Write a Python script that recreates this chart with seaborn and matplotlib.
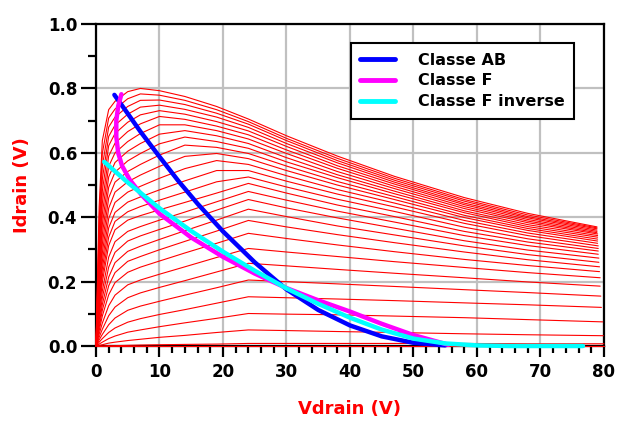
import pandas as pd
import numpy as np

import matplotlib
matplotlib.use("Agg")
import matplotlib.pyplot as plt
from matplotlib.ticker import MultipleLocator
import seaborn as sns

# drain voltage columns shared by all I-V curves, last point is per curve
vdrain_grid = [0, 0.5, 1, 2, 3, 5, 7, 10, 14, 19, 24, 30, 38, 47, 58, 68]
vdrain_last = [80.0, 80.0, 79.9, 79.8, 79.6, 79.5, 79.4, 79.4, 79.3, 79.3,
               79.2, 79.2, 79.1, 79.1, 79.1, 79.1, 79.0, 79.0, 79.0, 79.0,
               79.0, 79.0, 78.9, 78.9, 78.9, 78.9, 78.9, 78.9]

# one row per gate step (bottom to top)
idrain_curves = [
    [0, 0, 0, 0, 0, 0, 0, 0, 0, 0, 0, 0, 0, 0, 0, 0, 0],
    [0, 0.000, 0.000, 0.001, 0.001, 0.002, 0.003, 0.004, 0.005, 0.006, 0.008, 0.008, 0.008, 0.008, 0.008, 0.007, 0.007],
    [0, 0.002, 0.004, 0.009, 0.012, 0.017, 0.021, 0.027, 0.033, 0.042, 0.050, 0.048, 0.045, 0.042, 0.038, 0.035, 0.032],
    [0, 0.006, 0.012, 0.023, 0.031, 0.043, 0.050, 0.060, 0.072, 0.086, 0.101, 0.099, 0.097, 0.093, 0.088, 0.082, 0.075],
    [0, 0.012, 0.023, 0.042, 0.056, 0.074, 0.085, 0.098, 0.113, 0.133, 0.153, 0.150, 0.146, 0.141, 0.134, 0.128, 0.120],
    [0, 0.019, 0.036, 0.066, 0.087, 0.111, 0.124, 0.139, 0.158, 0.181, 0.205, 0.200, 0.193, 0.185, 0.175, 0.166, 0.155],
    [0, 0.027, 0.052, 0.094, 0.121, 0.150, 0.165, 0.182, 0.203, 0.230, 0.257, 0.249, 0.238, 0.226, 0.212, 0.199, 0.186],
    [0, 0.037, 0.071, 0.125, 0.158, 0.190, 0.205, 0.223, 0.246, 0.275, 0.303, 0.292, 0.278, 0.262, 0.244, 0.228, 0.212],
    [0, 0.048, 0.093, 0.159, 0.197, 0.229, 0.245, 0.264, 0.289, 0.319, 0.350, 0.334, 0.314, 0.293, 0.269, 0.250, 0.231],
    [0, 0.058, 0.111, 0.187, 0.228, 0.263, 0.278, 0.299, 0.325, 0.357, 0.390, 0.370, 0.346, 0.321, 0.292, 0.268, 0.246],
    [0, 0.067, 0.129, 0.214, 0.259, 0.294, 0.310, 0.331, 0.358, 0.391, 0.425, 0.402, 0.373, 0.345, 0.311, 0.284, 0.260],
    [0, 0.079, 0.149, 0.245, 0.291, 0.326, 0.342, 0.362, 0.388, 0.422, 0.455, 0.429, 0.398, 0.366, 0.327, 0.298, 0.273],
    [0, 0.092, 0.171, 0.276, 0.324, 0.356, 0.371, 0.391, 0.416, 0.448, 0.480, 0.453, 0.419, 0.385, 0.343, 0.312, 0.285],
    [0, 0.107, 0.198, 0.312, 0.361, 0.391, 0.405, 0.423, 0.446, 0.475, 0.505, 0.475, 0.438, 0.402, 0.356, 0.323, 0.295],
    [0, 0.118, 0.218, 0.338, 0.387, 0.417, 0.433, 0.453, 0.478, 0.510, 0.525, 0.494, 0.456, 0.418, 0.369, 0.333, 0.303],
    [0, 0.131, 0.240, 0.367, 0.415, 0.447, 0.463, 0.485, 0.513, 0.545, 0.545, 0.512, 0.472, 0.432, 0.381, 0.343, 0.311],
    [0, 0.145, 0.263, 0.396, 0.446, 0.478, 0.496, 0.521, 0.551, 0.576, 0.564, 0.529, 0.486, 0.444, 0.390, 0.351, 0.319],
    [0, 0.161, 0.289, 0.428, 0.478, 0.510, 0.531, 0.558, 0.589, 0.598, 0.582, 0.545, 0.500, 0.455, 0.399, 0.359, 0.326],
    [0, 0.177, 0.317, 0.460, 0.509, 0.542, 0.564, 0.593, 0.624, 0.617, 0.598, 0.559, 0.511, 0.464, 0.406, 0.365, 0.332],
    [0, 0.197, 0.346, 0.493, 0.540, 0.575, 0.598, 0.628, 0.649, 0.635, 0.614, 0.572, 0.523, 0.473, 0.414, 0.371, 0.338],
    [0, 0.217, 0.377, 0.525, 0.570, 0.605, 0.629, 0.658, 0.669, 0.653, 0.629, 0.585, 0.532, 0.481, 0.420, 0.377, 0.343],
    [0, 0.239, 0.410, 0.558, 0.600, 0.635, 0.660, 0.687, 0.687, 0.669, 0.643, 0.598, 0.542, 0.489, 0.427, 0.383, 0.348],
    [0, 0.264, 0.444, 0.590, 0.630, 0.666, 0.690, 0.713, 0.704, 0.683, 0.656, 0.609, 0.552, 0.496, 0.433, 0.388, 0.352],
    [0, 0.291, 0.481, 0.622, 0.660, 0.695, 0.718, 0.731, 0.720, 0.697, 0.668, 0.620, 0.560, 0.503, 0.439, 0.393, 0.356],
    [0, 0.321, 0.518, 0.651, 0.686, 0.720, 0.742, 0.748, 0.735, 0.711, 0.679, 0.629, 0.569, 0.509, 0.444, 0.398, 0.360],
    [0, 0.353, 0.558, 0.680, 0.711, 0.744, 0.763, 0.764, 0.750, 0.723, 0.689, 0.638, 0.576, 0.515, 0.450, 0.402, 0.364],
    [0, 0.392, 0.598, 0.708, 0.736, 0.768, 0.783, 0.779, 0.763, 0.734, 0.697, 0.645, 0.583, 0.521, 0.455, 0.407, 0.367],
    [0, 0.433, 0.638, 0.734, 0.760, 0.790, 0.800, 0.793, 0.775, 0.744, 0.705, 0.653, 0.590, 0.527, 0.461, 0.412, 0.370],
]

# load lines
classe_ab_vd = [2.9, 5.0, 7.0, 10.0, 13.0, 16.0, 20.0, 25.0, 30.0, 35.0, 40.0, 45.0, 50.0, 55.0]
classe_ab_id = [0.780, 0.722, 0.666, 0.588, 0.512, 0.442, 0.356, 0.260, 0.176, 0.112, 0.064, 0.030, 0.010, 0.002]

classe_f_vd = [4.0, 3.5, 3.2, 3.2, 3.5, 4.1, 5.3, 7.2, 10.0, 15.0, 20.0, 25.0, 30.0, 35.0, 40.0, 45.0, 50.0, 55.5]
classe_f_id = [0.782, 0.745, 0.700, 0.650, 0.600, 0.560, 0.517, 0.469, 0.411, 0.337, 0.277, 0.225, 0.180, 0.142, 0.107, 0.069, 0.034, 0.004]

classe_fi_vd = [1.3, 5.0, 10.0, 15.0, 20.0, 25.0, 30.0, 35.0, 40.0, 45.0, 50.0, 55.0, 60.0, 65.0, 70.0, 76.7]
classe_fi_id = [0.572, 0.508, 0.428, 0.357, 0.293, 0.234, 0.179, 0.131, 0.088, 0.051, 0.023, 0.008, 0.002, 0.0, 0.0, 0.0]

classes = ['Classe AB', 'Classe F', 'Classe F inverse']
class_colors = {'Classe AB': '#0000ff', 'Classe F': '#ff00ff', 'Classe F inverse': '#00ffff'}


rows = []
for k, ids in enumerate(idrain_curves):
    vds = vdrain_grid + [vdrain_last[k]]
    for vd, i in zip(vds, ids):
        rows.append((k, vd, i))
iv = pd.DataFrame(rows, columns=['curve', 'vdrain', 'idrain'])

load = pd.concat([
    pd.DataFrame({'classe': classes[0], 'vdrain': classe_ab_vd, 'idrain': classe_ab_id}),
    pd.DataFrame({'classe': classes[1], 'vdrain': classe_f_vd, 'idrain': classe_f_id}),
    pd.DataFrame({'classe': classes[2], 'vdrain': classe_fi_vd, 'idrain': classe_fi_id}),
], ignore_index=True)


sns.set_theme(style='ticks')
plt.rcParams['font.family'] = ['DejaVu Sans']
plt.rcParams['font.weight'] = 'bold'
plt.rcParams['text.color'] = 'black'
plt.rcParams['xtick.color'] = 'black'
plt.rcParams['ytick.color'] = 'black'

fig = plt.figure(figsize=(6.18, 4.21), dpi=100)
ax = fig.add_axes([0.1553, 0.1781, 0.822, 0.7648])

sns.lineplot(data=iv, x='vdrain', y='idrain', units='curve', estimator=None,
             sort=False, color='red', lw=0.8, legend=False, ax=ax,
             zorder=3, clip_on=False)

sns.lineplot(data=load, x='vdrain', y='idrain', hue='classe', hue_order=classes,
             palette=class_colors, estimator=None, sort=False, lw=3.2, ax=ax,
             zorder=4, clip_on=False)

ax.set_xlim(0, 80)
ax.set_ylim(0, 1.0)
ax.xaxis.set_major_locator(MultipleLocator(10))
ax.xaxis.set_minor_locator(MultipleLocator(2))
ax.yaxis.set_major_locator(MultipleLocator(0.2))
ax.yaxis.set_minor_locator(MultipleLocator(0.1))
ax.grid(True, which='major', color='#c0c0c0', lw=1.6)

for side in ['left', 'bottom', 'top', 'right']:
    ax.spines[side].set_color('black')
    ax.spines[side].set_linewidth(1.6)

ax.tick_params(axis='both', which='both', direction='out', color='black',
               labelcolor='black', width=1.6)
ax.tick_params(axis='x', which='major', length=8, pad=4, labelsize=12)
ax.tick_params(axis='x', which='minor', length=5)
ax.tick_params(axis='y', which='major', length=10.5, pad=3, labelsize=12)
ax.tick_params(axis='y', which='minor', length=6)
for lab in ax.get_xticklabels() + ax.get_yticklabels():
    lab.set_fontweight('bold')

ax.set_xlabel('Vdrain (V)', color='red', fontsize=13, fontweight='bold', labelpad=14)
ax.set_ylabel('Idrain (V)', color='red', fontsize=13, fontweight='bold', labelpad=12)

handles, labels = ax.get_legend_handles_labels()
leg = ax.legend(handles, labels, loc='upper right', bbox_to_anchor=(0.941, 0.941),
                borderaxespad=0, frameon=True, fancybox=False, edgecolor='black',
                framealpha=1, prop={'weight': 'bold', 'size': 11.5},
                handlelength=2.2, handletextpad=1.4, labelspacing=0.36, borderpad=0.6)
leg.get_frame().set_linewidth(1.5)
for line in leg.get_lines():
    line.set_linewidth(3.5)
for t in leg.get_texts():
    t.set_color('black')

fig.savefig('out.png', dpi=100)
